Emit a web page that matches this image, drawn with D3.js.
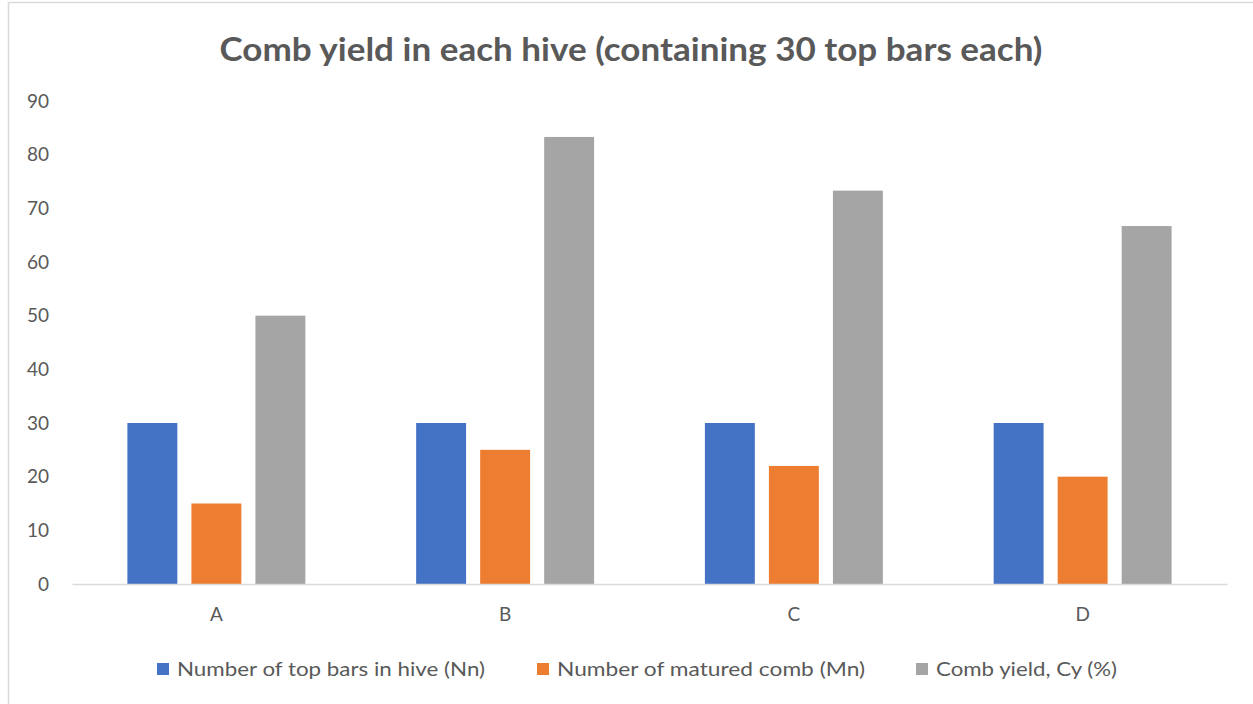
<!DOCTYPE html>
<html>
<head>
<meta charset="utf-8">
<script src="https://cdn.jsdelivr.net/npm/d3@7"></script>
<style>
  html, body { margin: 0; padding: 0; background: #fff; }
  svg { display: block; }
</style>
</head>
<body>
<div id="chart"></div>
<script>
// chart values
var categories = ["A", "B", "C", "D"];
var seriesNames = ["Number of top bars in hive (Nn)", "Number of matured comb (Mn)", "Comb yield, Cy (%)"];
var topBars = [30, 30, 30, 30];
var maturedComb = [15, 25, 22, 20];
var combYield = [50, 83.3, 73.3, 66.7];
var yTicks = [0, 10, 20, 30, 40, 50, 60, 70, 80, 90];
var colors = ["#4472C4", "#ED7D31", "#A5A5A5"];

var W = 1253, H = 704;
var plot = { left: 72, right: 1227, top: 101, bottom: 584 };
var font = "Lato, 'Open Sans', sans-serif";
var textColor = "#595959";

var svg = d3.select("#chart")
    .append("svg")
    .attr("width", W)
    .attr("height", H);

// chart frame (left and top edges visible)
svg.append("rect")
    .attr("x", 8.5)
    .attr("y", 2.5)
    .attr("width", 1400)
    .attr("height", 900)
    .attr("fill", "#fff")
    .attr("stroke", "#d9d9d9")
    .attr("stroke-width", 1.5);

// title
svg.append("text")
    .attr("x", 631)
    .attr("y", 61)
    .attr("text-anchor", "middle")
    .attr("font-family", font)
    .attr("font-weight", "bold")
    .attr("font-size", 32)
    .attr("fill", textColor)
    .attr("textLength", 823)
    .attr("lengthAdjust", "spacingAndGlyphs")
    .text("Comb yield in each hive (containing 30 top bars each)");

var rows = categories.map(function(c, i) {
    return { cat: c, values: [topBars[i], maturedComb[i], combYield[i]] };
});

var x0 = d3.scaleBand()
    .domain(categories)
    .range([plot.left, plot.right])
    .padding(0);

var outer = 55.4;
var x1 = d3.scaleBand()
    .domain(d3.range(seriesNames.length))
    .range([outer, x0.bandwidth() - outer])
    .paddingInner(0.22)
    .paddingOuter(0);

var y = d3.scaleLinear()
    .domain([0, 90])
    .range([plot.bottom, plot.top]);

// y axis labels
var yAxis = svg.append("g")
    .attr("transform", "translate(49,0)")
    .call(d3.axisLeft(y).tickValues(yTicks).tickSize(0).tickPadding(0));
yAxis.select(".domain").remove();
yAxis.selectAll("text")
    .attr("font-family", font)
    .attr("font-size", 19)
    .attr("fill", textColor);

// bars
var groups = svg.selectAll("g.grp")
    .data(rows)
    .enter().append("g")
    .attr("class", "grp")
    .attr("transform", function(d) { return "translate(" + x0(d.cat) + ",0)"; });

groups.selectAll("rect")
    .data(function(d) { return d.values.map(function(v, k) { return { k: k, v: v }; }); })
    .enter().append("rect")
    .attr("x", function(d) { return x1(d.k); })
    .attr("width", x1.bandwidth())
    .attr("y", function(d) { return y(d.v); })
    .attr("height", function(d) { return y(0) - y(d.v); })
    .attr("fill", function(d) { return colors[d.k]; });

// x axis
var xAxis = svg.append("g")
    .attr("transform", "translate(0," + plot.bottom + ")")
    .call(d3.axisBottom(x0).tickSize(0).tickSizeOuter(0).tickPadding(24));
xAxis.select(".domain")
    .attr("stroke", "#d9d9d9")
    .attr("stroke-width", 1.5);
xAxis.selectAll("text")
    .attr("font-family", font)
    .attr("font-size", 19)
    .attr("fill", textColor);

// legend
var legendX = [157, 537, 916];
var legendW = [308, 308, 181];
var legend = svg.selectAll("g.leg")
    .data(seriesNames)
    .enter().append("g")
    .attr("class", "leg")
    .attr("transform", function(d, i) { return "translate(" + legendX[i] + ",669)"; });

legend.append("rect")
    .attr("x", 0)
    .attr("y", -6)
    .attr("width", 12)
    .attr("height", 12)
    .attr("fill", function(d, i) { return colors[i]; });

legend.append("text")
    .attr("x", 20)
    .attr("y", 0)
    .attr("dy", "0.36em")
    .attr("font-family", font)
    .attr("font-size", 20)
    .attr("fill", textColor)
    .attr("textLength", function(d, i) { return legendW[i]; })
    .attr("lengthAdjust", "spacingAndGlyphs")
    .text(function(d) { return d; });
</script>
</body>
</html>
